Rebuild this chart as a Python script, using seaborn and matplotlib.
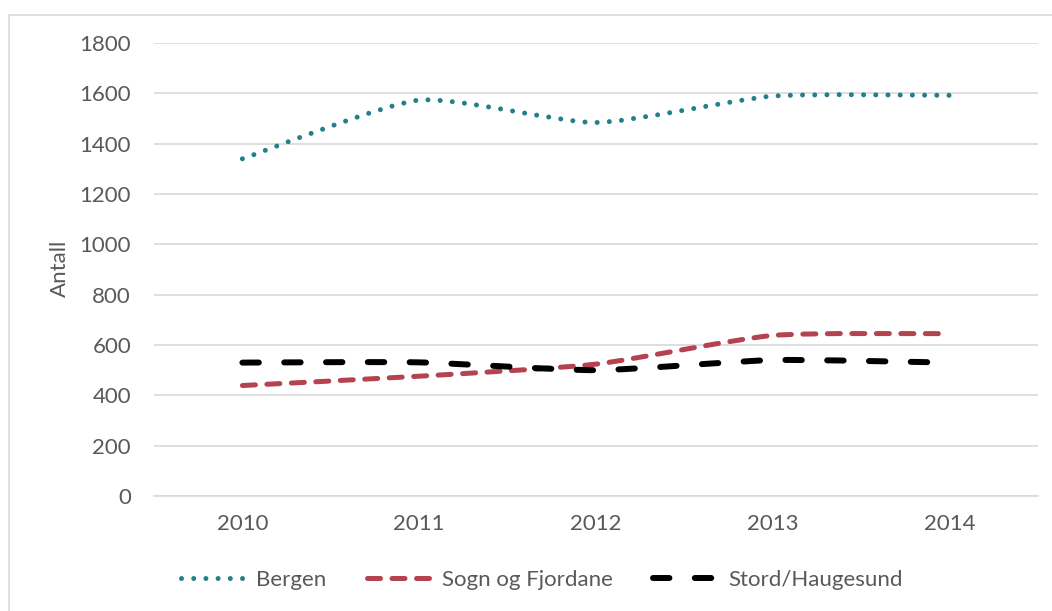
import numpy as np
import pandas as pd
import matplotlib
matplotlib.use('Agg')
import matplotlib.pyplot as plt
import seaborn as sns
from matplotlib.path import Path
from matplotlib.patches import PathPatch
from matplotlib.lines import Line2D

# ---- data ----
years = ['2010', '2011', '2012', '2013', '2014']
bergen = [1340, 1573, 1484, 1589, 1592]
sogn_og_fjordane = [439, 476, 524, 638, 645]
stord_haugesund = [530, 531, 500, 540, 530]
series_names = ['Bergen', 'Sogn og Fjordane', 'Stord/Haugesund']
y_ticks = [0, 200, 400, 600, 800, 1000, 1200, 1400, 1600, 1800]
y_label = 'Antall'

df = pd.DataFrame({'year': years, 'Bergen': bergen,
                   'Sogn og Fjordane': sogn_og_fjordane,
                   'Stord/Haugesund': stord_haugesund})
long = df.melt(id_vars='year', var_name='serie', value_name='antall')

sns.set_theme(style='white')
plt.rcParams['font.family'] = ['Lato', 'DejaVu Sans']

W, H = 1052, 611
fig = plt.figure(figsize=(W / 100, H / 100), dpi=100)
ax = fig.add_axes([154 / W, 1 - 496 / H, (1038 - 154) / W, (496 - 43) / H])

styles = {
    'Bergen': dict(color='#22808C', lw=3.6, dashes=(0.001, 2.44)),
    'Sogn og Fjordane': dict(color='#B4434F', lw=3.6, dashes=(2.6, 2.3)),
    'Stord/Haugesund': dict(color='#000000', lw=4.3, dashes=(2.75, 4.25)),
}

SMOOTH = 0.1


def smooth_path(xs, ys):
    # smoothed line: cubic Bezier segments through the data points
    pts = np.column_stack([xs, ys]).astype(float)
    ext = np.vstack([pts[0], pts, pts[-1]])
    verts = [tuple(pts[0])]
    codes = [Path.MOVETO]
    for i in range(len(pts) - 1):
        p0, p1, p2, p3 = ext[i], ext[i + 1], ext[i + 2], ext[i + 3]
        c1 = p1 + (p2 - p0) * SMOOTH
        c2 = p2 - (p3 - p1) * SMOOTH
        verts += [tuple(c1), tuple(c2), tuple(p2)]
        codes += [Path.CURVE4] * 3
    return Path(verts, codes)


handles = []
for name in series_names:
    sub = long[long['serie'] == name]
    xs = np.arange(len(sub))
    st = styles[name]
    patch = PathPatch(smooth_path(xs, sub['antall'].values), facecolor='none',
                      edgecolor=st['color'], lw=st['lw'],
                      linestyle=(0, st['dashes']), capstyle='round',
                      joinstyle='round', zorder=3)
    ax.add_patch(patch)
    handles.append(Line2D([0], [0], color=st['color'], lw=st['lw'],
                          linestyle=(0, st['dashes']), dash_capstyle='round'))

ax.set_xlim(-0.5, len(years) - 0.5)
ax.set_ylim(y_ticks[0], y_ticks[-1])
ax.set_xticks(range(len(years)))
ax.set_xticklabels(years)
ax.set_yticks(y_ticks)
ax.set_yticklabels([str(v) for v in y_ticks])

grid_col = '#D9D9D9'
ax.yaxis.grid(True, color=grid_col, lw=1.2)
ax.xaxis.grid(False)
ax.set_axisbelow(True)
for s in ['top', 'right', 'left']:
    ax.spines[s].set_visible(False)
ax.spines['bottom'].set_color(grid_col)
ax.spines['bottom'].set_linewidth(1.2)
ax.spines['bottom'].set_zorder(1)

txt_col = '#595959'
fs = 16
ax.tick_params(axis='y', length=0, pad=16.5, labelsize=fs, labelcolor=txt_col)
ax.tick_params(axis='x', length=0, pad=13, labelsize=fs, labelcolor=txt_col)
ax.set_xlabel('')
ax.set_ylabel('')
fig.text(60 / W, 1 - 268 / H, y_label, rotation=90, ha='center', va='center',
         fontsize=fs, color=txt_col)

leg = fig.legend(handles, series_names, loc='center', ncol=3,
                 bbox_to_anchor=(542 / W, 1 - 580 / H), frameon=False,
                 fontsize=fs, handlelength=2.85, handletextpad=0.55,
                 columnspacing=1.8)
for t in leg.get_texts():
    t.set_color(txt_col)

# outer chart border (light gray), as in the reference
fig.add_artist(Line2D([9 / W, 9 / W], [0, 1 - 15 / H], transform=fig.transFigure,
                      color=grid_col, lw=1.2))
fig.add_artist(Line2D([9 / W, 1], [1 - 15 / H, 1 - 15 / H], transform=fig.transFigure,
                      color=grid_col, lw=1.2))

fig.savefig('out.png', dpi=100)
